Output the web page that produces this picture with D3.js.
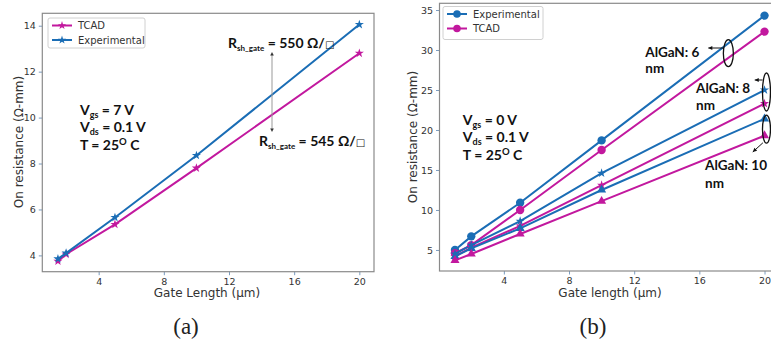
<!DOCTYPE html>
<html><head><meta charset="utf-8">
<script src="https://cdn.jsdelivr.net/npm/d3@7"></script>
<style>
body{margin:0;background:#fff;overflow:hidden}
svg{display:block}
.tick text{font-family:"DejaVu Sans",sans-serif;font-size:9.5px;fill:#333}
.ann{font-family:Lato,"Open Sans",sans-serif;font-weight:700;fill:#111}
</style></head>
<body>
<svg id="c" width="771" height="355"></svg>
<script>
// ---- data (a) ----
const leftX = [1.5, 2, 5, 10, 20];
const leftTCAD = [3.75, 4.05, 5.35, 7.8, 12.8];
const leftExp = [3.85, 4.1, 5.65, 8.35, 14.05];
const leftXTicks = [4, 8, 12, 16, 20];
const leftYTicks = [4, 6, 8, 10, 12, 14];
// ---- data (b) ----
const rightX = [1, 2, 5, 10, 20];
const exp6 = [5.0, 6.7, 10.9, 18.7, 34.3];
const tcad6 = [4.6, 5.6, 10.0, 17.5, 32.3];
const exp8 = [4.5, 5.6, 8.6, 14.6, 25.0];
const tcad8 = [4.2, 5.3, 8.0, 13.1, 23.3];
const exp10 = [4.2, 5.2, 7.7, 12.5, 21.4];
const tcad10 = [3.7, 4.5, 7.0, 11.1, 19.3];
const rightXTicks = [4, 8, 12, 16, 20];
const rightYTicks = [5, 10, 15, 20, 25, 30, 35];

const BLUE = "#1a6db5", MAG = "#c2189e";
const svg = d3.select("#c");

function panel(o) {
  const g = svg.append("g");
  const x = d3.scaleLinear().domain(o.xd).range([o.l, o.r]);
  const y = d3.scaleLinear().domain(o.yd).range([o.b, o.t]);
  const ax = g.append("g").attr("transform", `translate(0,${o.b})`)
    .call(d3.axisBottom(x).tickValues(o.xt).tickSize(3.5).tickPadding(3));
  const ay = g.append("g").attr("transform", `translate(${o.l},0)`)
    .call(d3.axisLeft(y).tickValues(o.yt).tickSize(3.5).tickPadding(3));
  [ax, ay].forEach(a => { a.select(".domain").remove(); a.selectAll("line").attr("stroke", "#7a9cc0"); });
  g.append("rect").attr("x", o.l).attr("y", o.t).attr("width", o.r - o.l).attr("height", o.b - o.t)
    .attr("fill", "none").attr("stroke", "#8a8a8a").attr("stroke-width", 1.2);
  const line = d3.line().x((d, i) => x(o.xs[i])).y(d => y(d));
  o.series.forEach(s => {
    g.append("path").attr("d", line(s.v)).attr("fill", "none").attr("stroke", s.c).attr("stroke-width", 2);
    g.selectAll(null).data(s.v).enter().append("path")
      .attr("transform", (d, i) => `translate(${x(o.xs[i])},${y(d)})`)
      .attr("d", d3.symbol().type(s.sym).size(s.size)).attr("fill", s.c);
  });
  return {g, x, y};
}

// ---------- (a) ----------
const A = panel({
  l: 42.3, r: 374, t: 13.3, b: 271.7,
  xd: [0.54, 20.9], yd: [3.29, 14.54],
  xt: leftXTicks, yt: leftYTicks, xs: leftX,
  series: [
    {v: leftTCAD, c: MAG, sym: d3.symbolStar, size: 26},
    {v: leftExp, c: BLUE, sym: d3.symbolStar, size: 26}
  ]
});
// ---------- (b) ----------
const B = panel({
  l: 439.5, r: 780, t: 3.3, b: 271,
  xd: [0.05, 20.95], yd: [2.37, 35.84],
  xt: rightXTicks, yt: rightYTicks, xs: rightX,
  series: [
    {v: exp6, c: BLUE, sym: d3.symbolCircle, size: 55},
    {v: tcad6, c: MAG, sym: d3.symbolCircle, size: 55},
    {v: exp8, c: BLUE, sym: d3.symbolStar, size: 26},
    {v: tcad8, c: MAG, sym: d3.symbolStar, size: 26},
    {v: exp10, c: BLUE, sym: d3.symbolTriangle, size: 36},
    {v: tcad10, c: MAG, sym: d3.symbolTriangle, size: 36}
  ]
});

function label(txt, x, y, rot) {
  svg.append("text").attr("transform", `translate(${x},${y})${rot ? " rotate(-90)" : ""}`)
    .attr("text-anchor", "middle").attr("font-family", "DejaVu Sans,sans-serif")
    .attr("font-size", 12).attr("fill", "#333").text(txt);
}
label("Gate Length (\u00b5m)", 207, 297);
label("On resistance (\u03a9-mm)", 23, 142, true);
label("Gate length (\u00b5m)", 610, 297);
label("On resistance (\u03a9-mm)", 417, 137, true);

function legend(x0, y0, w, h, items) {
  svg.append("rect").attr("x", x0).attr("y", y0).attr("width", w).attr("height", h).attr("rx", 2)
    .attr("fill", "#fff").attr("stroke", "#d0d0d0");
  items.forEach((it, i) => {
    const yy = y0 + 7.5 + i * 14.5;
    svg.append("line").attr("x1", x0 + 4).attr("x2", x0 + 24).attr("y1", yy).attr("y2", yy)
      .attr("stroke", it.c).attr("stroke-width", 2);
    svg.append("path").attr("transform", `translate(${x0 + 14},${yy})`)
      .attr("d", d3.symbol().type(it.sym).size(it.size)).attr("fill", it.c);
    svg.append("text").attr("x", x0 + 30).attr("y", yy + 3.5).attr("font-family", "DejaVu Sans,sans-serif")
      .attr("font-size", 10).attr("fill", "#333").text(it.t);
  });
}
legend(48, 18, 97, 30, [
  {t: "TCAD", c: MAG, sym: d3.symbolStar, size: 22},
  {t: "Experimental", c: BLUE, sym: d3.symbolStar, size: 22}
]);
legend(443, 6.5, 100, 33, [
  {t: "Experimental", c: BLUE, sym: d3.symbolCircle, size: 45},
  {t: "TCAD", c: MAG, sym: d3.symbolCircle, size: 45}
]);

function cond(P, xv, ys, vgs) {
  const fs = 14;
  const lines = [
    [["V", 0], ["gs", 1], [" = " + vgs + " V", 0]],
    [["V", 0], ["ds", 1], [" = 0.1 V", 0]],
    [["T = 25", 0], ["O", 2], [" C", 0]]
  ];
  lines.forEach((parts, i) => {
    const t = svg.append("text").attr("class", "ann").attr("x", P.x(xv)).attr("y", P.y(ys[i])).attr("font-size", fs);
    let prev = 0;
    parts.forEach(p => {
      const ts = t.append("tspan").text(p[0]);
      if (p[1] === 1) ts.attr("font-size", 9).attr("dy", 3);
      else if (p[1] === 2) ts.attr("font-size", 9.5).attr("dy", -5);
      else ts.attr("dy", prev === 1 ? -3 : prev === 2 ? 5 : 0);
      prev = p[1];
    });
  });
}
cond(A, 2.85, [10.11, 9.37, 8.59], "7");
cond(B, 1.48, [20.6, 18.5, 16.25], "0");

function rsh(xv, yv, val) {
  const t = svg.append("text").attr("class", "ann").attr("x", A.x(xv)).attr("y", A.y(yv)).attr("font-size", 14);
  t.append("tspan").text("R");
  t.append("tspan").text("sh_gate").attr("font-size", 8).attr("dy", 3);
  t.append("tspan").text(" = " + val + " \u03a9/").attr("dy", -3);
  t.append("tspan").text("\u25a1").attr("font-family", "DejaVu Sans").attr("font-weight", 400).attr("font-size", 10);
}
rsh(11.94, 13.03, "550");
rsh(13.84, 8.76, "545");

{
  const ax = A.x(14.64), y1 = A.y(12.85), y2 = A.y(9.37);
  svg.append("line").attr("x1", ax).attr("x2", ax).attr("y1", y1 + 2).attr("y2", y2 - 2)
    .attr("stroke", "#999").attr("stroke-width", 1);
  svg.append("path").attr("d", `M${ax},${y1} l-1.8,3.5 h3.6 z`).attr("fill", "#333");
  svg.append("path").attr("d", `M${ax},${y2} l-1.8,-3.5 h3.6 z`).attr("fill", "#333");
}

function alg(xv, y1, y2, txt) {
  svg.append("text").attr("class", "ann").attr("x", B.x(xv)).attr("y", B.y(y1)).attr("font-size", 13.5).text(txt);
  svg.append("text").attr("class", "ann").attr("x", B.x(xv)).attr("y", B.y(y2)).attr("font-size", 13.5).text("nm");
}
alg(12.68, 29.1, 27.1, "AlGaN: 6");
alg(15.8, 24.6, 22.5, "AlGaN: 8");
alg(16.35, 15.0, 12.75, "AlGaN: 10");

function ell(xv, yv, rx, ry) {
  svg.append("ellipse").attr("cx", B.x(xv)).attr("cy", B.y(yv)).attr("rx", rx).attr("ry", ry)
    .attr("fill", "none").attr("stroke", "#111").attr("stroke-width", 1.3);
}
ell(17.78, 29.6, 5, 13.5);
ell(20.12, 24.75, 4, 19);
ell(20.12, 20.1, 4, 14);

function arrow(x1, y1, x2, y2) {
  const X1 = B.x(x1), Y1 = B.y(y1), X2 = B.x(x2), Y2 = B.y(y2);
  const a = Math.atan2(Y2 - Y1, X2 - X1);
  svg.append("line").attr("x1", X1).attr("y1", Y1).attr("x2", X2).attr("y2", Y2)
    .attr("stroke", "#111").attr("stroke-width", 1);
  const L = 4, W = 2;
  const bx = X2 - L * Math.cos(a), by = Y2 - L * Math.sin(a);
  svg.append("path").attr("d",
    `M${X2},${Y2}L${bx - W * Math.sin(a)},${by + W * Math.cos(a)}L${bx + W * Math.sin(a)},${by - W * Math.cos(a)}Z`)
    .attr("fill", "#111");
}
arrow(17.48, 30.25, 16.55, 30.25);
arrow(19.88, 26.25, 19.4, 26.25);
arrow(19.9, 18.4, 19.28, 17.25);

svg.append("text").attr("x", 186).attr("y", 334).attr("text-anchor", "middle")
  .attr("font-family", "Liberation Serif,serif").attr("font-size", 23).attr("fill", "#222").text("(a)");
svg.append("text").attr("x", 593).attr("y", 334).attr("text-anchor", "middle")
  .attr("font-family", "Liberation Serif,serif").attr("font-size", 23).attr("fill", "#222").text("(b)");
</script>
</body></html>
